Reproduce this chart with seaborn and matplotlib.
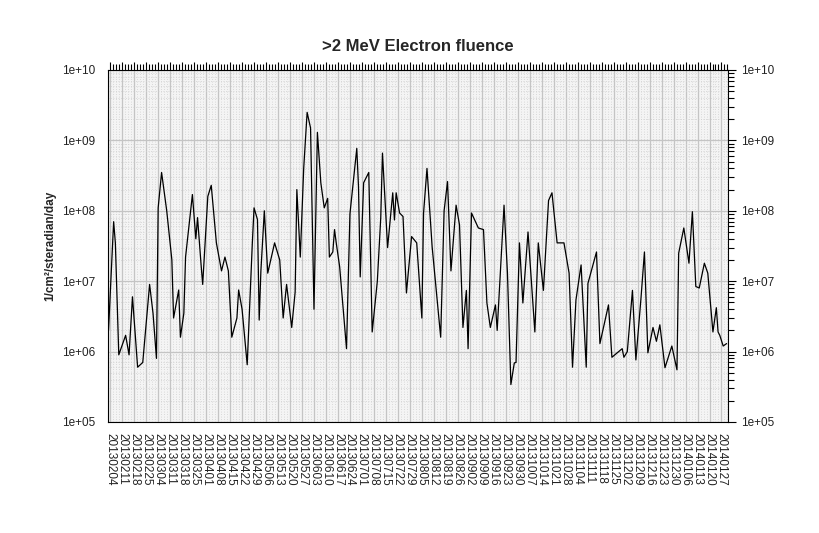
import numpy as np
import pandas as pd
import matplotlib
matplotlib.use("Agg")
import matplotlib.pyplot as plt
import matplotlib.ticker as mt
import seaborn as sns

# day offsets from 2013-02-04 and fluence values (1/cm2/sr/day)
days = [-2,-1,2,3,5,9,11,13,16,19,23,25,27,28,30,33,36,37,40,41,43,44,48,50,51,53,54,57,59,62,65,67,69,71,
        74,75,77,80,83,84,86,87,88,90,92,96,99,101,103,106,108,109,111,113,115,117,119,121,123,125,127,128,130,131,
        132,134,138,140,144,145,146,148,151,153,156,158,159,162,165,166,167,169,171,173,176,179,182,183,185,188,
        193,195,197,199,202,204,206,208,209,211,215,218,220,222,225,226,230,232,234,236,237,239,241,244,248,250,
        253,256,258,261,265,268,270,272,275,278,279,284,286,289,291,293,299,300,302,305,307,310,312,314,317,319,
        321,324,328,331,332,335,338,340,342,344,347,349,352,354,355,356,358,360]
fluence = [5e6,2e6,7e7,3.5e7,9e5,1.7e6,9e5,6e6,6e5,7e5,9e6,3.5e6,8e5,1.1e8,3.5e8,1e8,2e7,3e6,7.5e6,1.6e6,3.5e6,2.2e7,
           1.7e8,4e7,8e7,1.8e7,9e6,1.6e8,2.3e8,3.5e7,1.4e7,2.2e7,1.4e7,1.6e6,3e6,7.5e6,4e6,6.5e5,3.5e7,1.1e8,7.5e7,
           2.8e6,1.4e7,1e8,1.3e7,3.5e7,2e7,3e6,9e6,2.2e6,7e6,2e8,2.2e7,4e8,2.5e9,1.5e9,4e6,1.3e9,2.5e8,1.1e8,1.5e8,
           2.2e7,2.6e7,5.4e7,3.5e7,1.6e7,1.1e6,9e7,7.7e8,2.2e8,1.15e7,2.5e8,3.5e8,1.9e6,1e7,8e7,6.6e8,3e7,1.8e8,
           7.4e7,1.8e8,9.3e7,8.3e7,6.8e6,4.3e7,3.5e7,3e6,9.3e7,4e8,3.1e7,1.6e6,1e8,2.6e8,1.4e7,1.2e8,6.3e7,2.2e6,
           7.4e6,1.1e6,9.3e7,5.7e7,5.4e7,4.9e6,2.2e6,4.6e6,2e6,1.2e8,1.3e7,3.4e5,6.9e5,7e5,3.5e7,4.9e6,5e7,1.9e6,
           3.5e7,7.4e6,1.4e8,1.8e8,3.5e7,3.5e7,1.3e7,6e5,5.4e6,1.7e7,6e5,9.3e6,2.6e7,1.3e6,2.8e6,4.6e6,8.3e5,1.1e6,
           8.3e5,1e6,7.4e6,7.6e5,5.8e6,2.6e7,9.6e5,2.2e6,1.4e6,2.4e6,5.9e5,1.2e6,5.5e5,2.5e7,5.7e7,1.8e7,9.7e7,8.4e6,
           8e6,1.8e7,1.3e7,1.9e6,4.2e6,1.9e6,1.7e6,1.2e6,1.3e6]
tick_labels = [(pd.Timestamp("2013-02-04") + pd.Timedelta(days=7 * i)).strftime("%Y%m%d") for i in range(52)]

df = pd.DataFrame({"day": days, "fluence": fluence})

sns.set_style("white")
plt.rcParams["font.family"] = ["Liberation Sans", "DejaVu Sans"]
fig = plt.figure(figsize=(8.2, 5.33), dpi=100)
ax = fig.add_axes([0.1317, 0.2083, 0.7561, 0.6604])
ax.set_facecolor("#f4f4f4")
sns.lineplot(data=df, x="day", y="fluence", ax=ax, color="black", linewidth=0.9)
ax.set_yscale("log")
ax.set_ylim(1e5, 1e10)
ax.set_xlim(-1.3, 360.8)
ax.yaxis.set_major_locator(mt.LogLocator(base=10, numticks=10))
ax.yaxis.set_minor_locator(mt.LogLocator(base=10, subs=np.arange(2, 10), numticks=20))
ax.yaxis.set_major_formatter(mt.FuncFormatter(lambda v, p: "1e+%02d" % round(np.log10(v))))
ax.yaxis.set_minor_formatter(mt.NullFormatter())
ax.set_xticks([7 * i for i in range(52)])
ax.set_xticklabels(tick_labels, rotation=-90, fontsize=8.5)
ax.xaxis.set_minor_locator(mt.MultipleLocator(1.75))
ax.grid(which="major", color="#c4c4c4", linewidth=0.9, linestyle="-")
ax.grid(which="minor", color="#d0d0d0", linewidth=0.6, linestyle=(0, (1, 2)))
ax.tick_params(which="both", direction="out", top=True, right=True, labelright=True,
               labelsize=8.5, length=6, width=0.8, color="black", labelcolor="#222222")
ax.tick_params(which="minor", length=4)
ax.tick_params(axis="x", which="major", pad=2)
for s in ax.spines.values():
    s.set_color("black"); s.set_linewidth(0.8)
ax.set_xlabel("")
ax.set_ylabel("1/cm²/steradian/day", fontsize=8.5, fontweight="bold")
ax.set_title(">2 MeV Electron fluence", fontsize=12, fontweight="bold", pad=14)
fig.savefig("out.png", dpi=100, facecolor="white")
